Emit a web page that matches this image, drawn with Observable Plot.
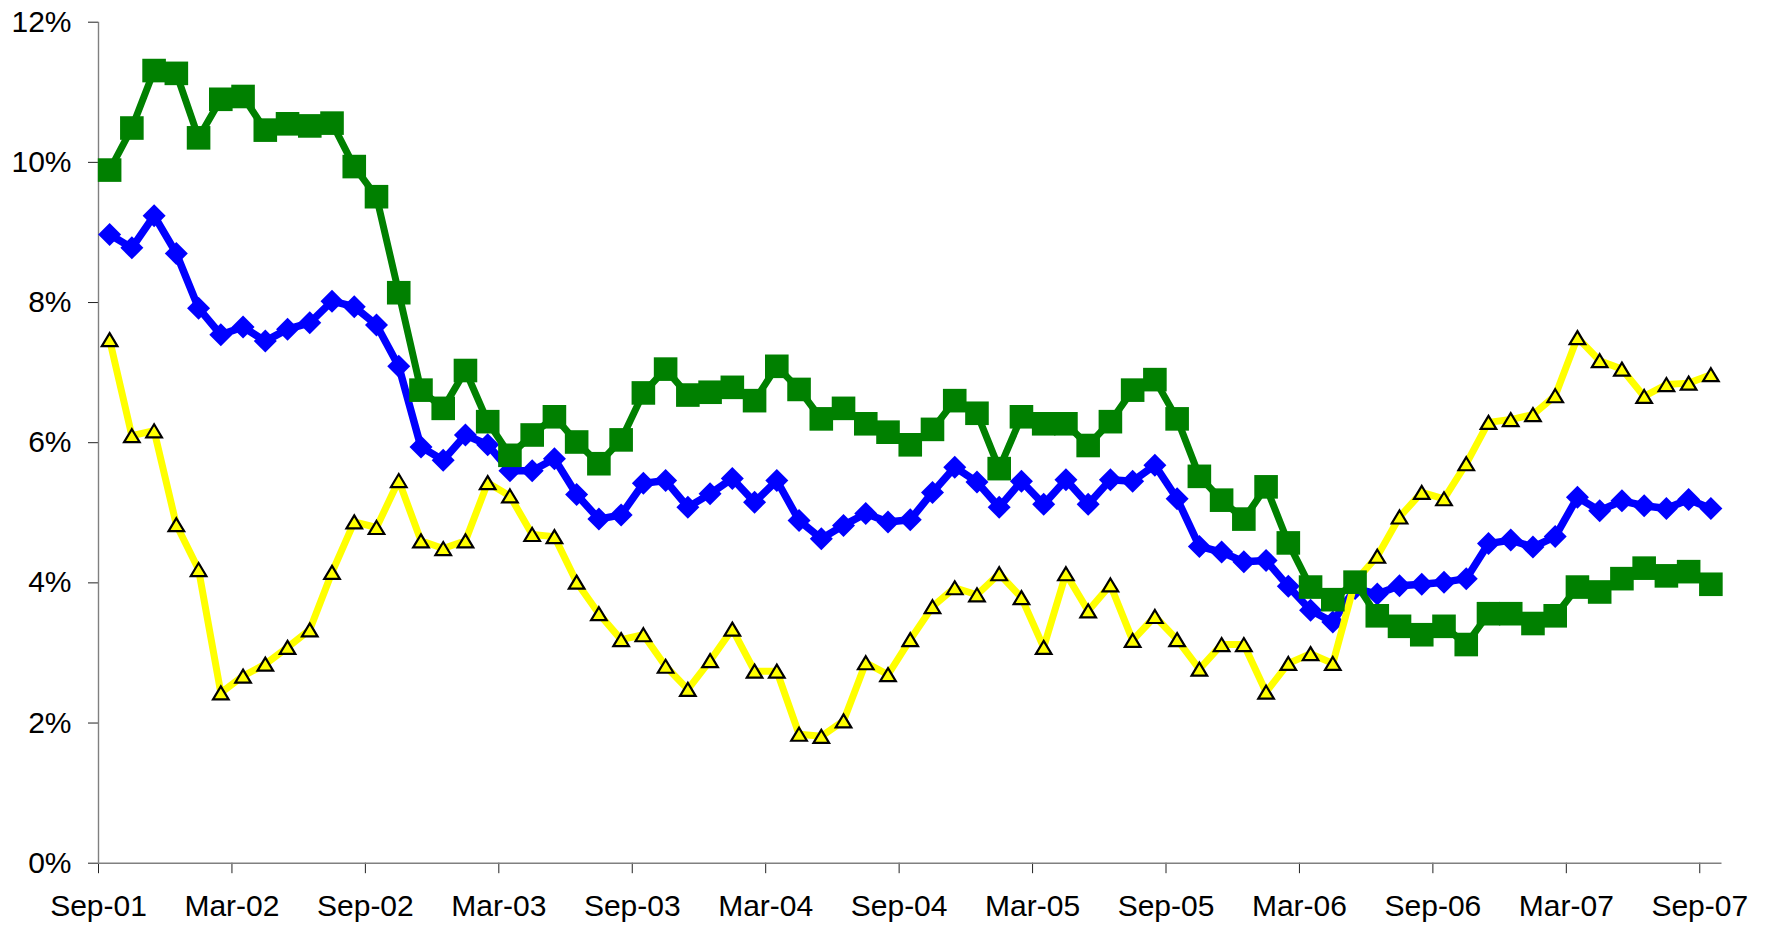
<!DOCTYPE html>
<html>
<head>
<meta charset="utf-8">
<script src="https://cdn.jsdelivr.net/npm/d3@7"></script>
<script src="https://cdn.jsdelivr.net/npm/@observablehq/plot@0.6"></script>
<style>
  html, body { margin: 0; padding: 0; background: #fff; }
  #chart { width: 1769px; height: 925px; }
</style>
</head>
<body>
<div id="chart"></div>
<script>
// Categories (monthly, Sep-01 .. Sep-07)
const months = [
  "Sep-01","Oct-01","Nov-01","Dec-01",
  "Jan-02","Feb-02","Mar-02","Apr-02","May-02","Jun-02","Jul-02","Aug-02","Sep-02","Oct-02","Nov-02","Dec-02",
  "Jan-03","Feb-03","Mar-03","Apr-03","May-03","Jun-03","Jul-03","Aug-03","Sep-03","Oct-03","Nov-03","Dec-03",
  "Jan-04","Feb-04","Mar-04","Apr-04","May-04","Jun-04","Jul-04","Aug-04","Sep-04","Oct-04","Nov-04","Dec-04",
  "Jan-05","Feb-05","Mar-05","Apr-05","May-05","Jun-05","Jul-05","Aug-05","Sep-05","Oct-05","Nov-05","Dec-05",
  "Jan-06","Feb-06","Mar-06","Apr-06","May-06","Jun-06","Jul-06","Aug-06","Sep-06","Oct-06","Nov-06","Dec-06",
  "Jan-07","Feb-07","Mar-07","Apr-07","May-07","Jun-07","Jul-07","Aug-07","Sep-07"
];

// Tick labels on the category axis
const tickLabels = ["Sep-01","Mar-02","Sep-02","Mar-03","Sep-03","Mar-04","Sep-04","Mar-05","Sep-05","Mar-06","Sep-06","Mar-07","Sep-07"];

// Y-axis ticks (percent)
const yTicks = [0, 2, 4, 6, 8, 10, 12];

// Series values (percent)
const blueSeries = [
  8.97, 8.78, 9.24, 8.70, 7.92, 7.54, 7.65, 7.45, 7.62, 7.71, 8.02, 7.94, 7.68, 7.09, 5.94, 5.75,
  6.11, 5.97, 5.60, 5.60, 5.77, 5.26, 4.91, 4.97, 5.42, 5.46, 5.08, 5.27, 5.49, 5.15, 5.46, 4.89,
  4.63, 4.82, 4.99, 4.87, 4.90, 5.29, 5.65, 5.44, 5.08, 5.45, 5.12, 5.47, 5.12, 5.47, 5.45, 5.68,
  5.20, 4.52, 4.44, 4.30, 4.32, 3.95, 3.61, 3.44, 3.92, 3.84, 3.96, 3.98, 4.01, 4.06, 4.56, 4.61,
  4.51, 4.66, 5.22, 5.03, 5.17, 5.10, 5.06, 5.19, 5.06
];
const greenSeries = [
  9.89, 10.49, 11.31, 11.27, 10.35, 10.90, 10.94, 10.46, 10.55, 10.52, 10.56, 9.94, 9.51, 8.14, 6.75, 6.49,
  7.03, 6.30, 5.82, 6.11, 6.37, 6.01, 5.70, 6.04, 6.71, 7.05, 6.68, 6.72, 6.79, 6.60, 7.09, 6.76,
  6.34, 6.49, 6.27, 6.15, 5.97, 6.19, 6.60, 6.42, 5.63, 6.37, 6.27, 6.27, 5.96, 6.30, 6.75, 6.90,
  6.34, 5.52, 5.18, 4.91, 5.37, 4.57, 3.94, 3.76, 4.01, 3.53, 3.38, 3.26, 3.38, 3.12, 3.56, 3.56,
  3.42, 3.53, 3.94, 3.87, 4.06, 4.21, 4.10, 4.16, 3.98
];
const yellowSeries = [
  7.47, 6.10, 6.17, 4.83, 4.19, 2.43, 2.67, 2.84, 3.08, 3.33, 4.15, 4.87, 4.79, 5.46, 4.60, 4.49,
  4.60, 5.43, 5.24, 4.69, 4.66, 4.01, 3.56, 3.19, 3.26, 2.81, 2.48, 2.89, 3.34, 2.74, 2.74, 1.84,
  1.81, 2.03, 2.86, 2.69, 3.19, 3.66, 3.93, 3.83, 4.13, 3.79, 3.08, 4.13, 3.60, 3.97, 3.18, 3.52,
  3.19, 2.77, 3.12, 3.12, 2.44, 2.85, 2.99, 2.85, 4.02, 4.38, 4.94, 5.29, 5.20, 5.70, 6.29, 6.33,
  6.40, 6.67, 7.50, 7.17, 7.05, 6.66, 6.83, 6.85, 6.97
];

// Build tables
const toRows = (vals) => vals.map((v, i) => ({month: months[i], x: i + 0.5, y: v}));
const blueRows = toRows(blueSeries);
const greenRows = toRows(greenSeries);
const yellowRows = toRows(yellowSeries);
const tickPos = tickLabels.map(l => months.indexOf(l));

// Excel-like marker shapes (r = half size)
const rad = (size) => Math.sqrt(size / Math.PI);
const squareSym = { draw(ctx, size) { const r = rad(size); ctx.rect(-r, -r, 2 * r, 2 * r); } };
const diamondSym = { draw(ctx, size) { const r = rad(size); ctx.moveTo(0, -r); ctx.lineTo(r, 0); ctx.lineTo(0, r); ctx.lineTo(-r, 0); ctx.closePath(); } };
const triangleSym = { draw(ctx, size) { const r = rad(size); ctx.moveTo(0, -r); ctx.lineTo(r * 1.2, r); ctx.lineTo(-r * 1.2, r); ctx.closePath(); } };

const chart = Plot.plot({
  width: 1769,
  height: 925,
  marginLeft: 98,
  marginRight: 47.5,
  marginTop: 21.7,
  marginBottom: 62.3,
  style: { fontFamily: "'Liberation Sans', Arial, sans-serif", fontSize: "30px", background: "#fff", color: "#000" },
  x: { type: "linear", domain: [0, months.length] },
  y: { domain: [0, 12] },
  marks: [
    Plot.axisY({ ticks: yTicks, tickFormat: d => d + "%", tickSize: 10, tickPadding: 17, stroke: "#222", fontSize: 30, label: null }),
    Plot.axisX({ ticks: tickPos, tickFormat: d => tickLabels[tickPos.indexOf(d)], tickSize: 10.5, tickPadding: 21, stroke: "#222", fontSize: 30, label: null }),
    Plot.ruleX([0], { stroke: "#808080", strokeWidth: 1.4 }),
    Plot.ruleY([0], { stroke: "#808080", strokeWidth: 1.4 }),
    // blue series
    Plot.line(blueRows, { x: "x", y: "y", stroke: "#0000FF", strokeWidth: 7.5, strokeLinejoin: "round" }),
    Plot.dot(blueRows, { x: "x", y: "y", symbol: diamondSym, r: 11.5, fill: "#0000FF", stroke: "none" }),
    // yellow series
    Plot.line(yellowRows, { x: "x", y: "y", stroke: "#FFFF00", strokeWidth: 7, strokeLinejoin: "round" }),
    Plot.dot(yellowRows, { x: "x", y: "y", symbol: triangleSym, r: 6.5, fill: "#FFFF00", stroke: "#000", strokeWidth: 2.2 }),
    // green series
    Plot.line(greenRows, { x: "x", y: "y", stroke: "#008000", strokeWidth: 7, strokeLinejoin: "round" }),
    Plot.dot(greenRows, { x: "x", y: "y", symbol: squareSym, r: 11.8, fill: "#008000", stroke: "none" })
  ]
});
document.getElementById("chart").appendChild(chart);
</script>
</body>
</html>
